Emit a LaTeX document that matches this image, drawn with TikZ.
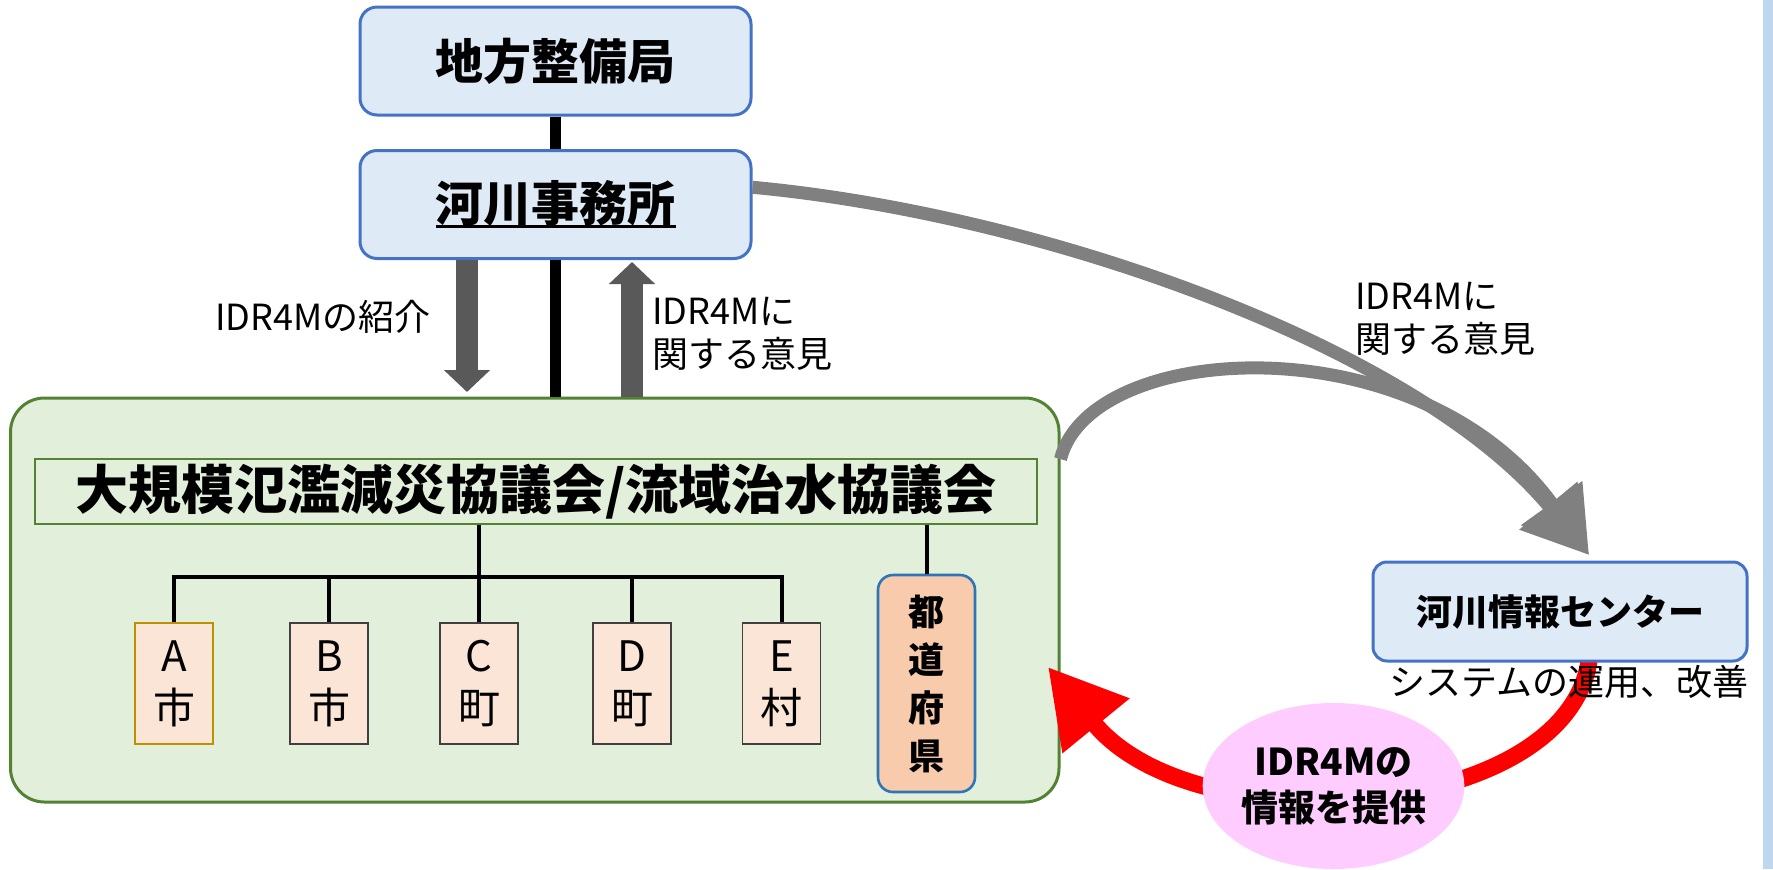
\documentclass[tikz,border=0pt]{standalone}
\usepackage{fontspec}
\setmainfont{Noto Sans CJK JP}
\usetikzlibrary{arrows.meta,positioning,shapes.geometric,calc}
\definecolor{boxfill}{HTML}{DEEBF7}
\definecolor{boxline}{HTML}{4472C4}
\definecolor{grpfill}{HTML}{E2EFDA}
\definecolor{grpline}{HTML}{548235}
\definecolor{cityfill}{HTML}{FBE5D6}
\definecolor{cityline}{HTML}{404040}
\definecolor{goldline}{HTML}{BF9000}
\definecolor{preffill}{HTML}{F8CBAD}
\definecolor{prefline}{HTML}{2E75B6}
\definecolor{darkarrow}{HTML}{595959}
\definecolor{lightarrow}{HTML}{808080}
\definecolor{infopink}{HTML}{FFCCFF}
\definecolor{stripblue}{HTML}{BDD7EE}
\newcommand{\thickul}[1]{\setbox0\hbox{#1}\rlap{\rule[-3.2pt]{\wd0}{1.5pt}}\box0}
\tikzset{
    x=0.5pt, y=-0.5pt,
    office/.style={draw=boxline, fill=boxfill, line width=1.5pt, rounded corners=8.5pt,
        inner sep=0pt, minimum width=195.5pt, minimum height=54pt,
        font=\fontsize{24pt}{28pt}\selectfont\bfseries},
    infocenter/.style={office, rounded corners=7pt, minimum width=187pt, minimum height=49.5pt,
        font=\fontsize{18pt}{22pt}\selectfont\bfseries},
    council/.style={draw=grpline, fill=grpfill, line width=1.5pt, rounded corners=17pt,
        inner sep=0pt, minimum width=524.25pt, minimum height=202pt},
    heading/.style={draw=grpline, fill=grpfill, line width=1.2pt, inner sep=0pt,
        minimum width=501pt, minimum height=32.5pt,
        font=\fontsize{26.5pt}{30pt}\selectfont\bfseries},
    city/.style={draw=cityline, fill=cityfill, line width=0.8pt, inner sep=0pt,
        minimum width=39pt, minimum height=60.5pt, align=center,
        font=\fontsize{21pt}{26pt}\selectfont},
    pref/.style={draw=prefline, fill=preffill, line width=1.3pt, rounded corners=7.5pt,
        inner sep=0pt, minimum width=48.5pt, minimum height=108.5pt, align=center,
        font=\fontsize{18pt}{24pt}\selectfont\bfseries},
    bubble/.style={ellipse, fill=infopink, inner sep=0pt, minimum width=115.5pt,
        minimum height=83pt, align=center, font=\fontsize{18.5pt}{23pt}\selectfont\bfseries},
    note/.style={inner sep=0pt, align=left, font=\fontsize{18pt}{21.5pt}\selectfont},
    link/.style={line width=5.5pt},
    branch/.style={line width=2pt},
    blockarrow/.style={darkarrow, line width=11pt, -{Triangle[length=11pt,width=22.5pt]}},
    curvearrow/.style={lightarrow, line width=6.5pt, -{Triangle[length=32pt,width=36pt]}},
    redarrow/.style={red, line width=8.5pt, -{Triangle[length=38pt,width=41pt]}}
}

\begin{document}
\begin{tikzpicture}
    \useasboundingbox (0,0) rectangle (1773,869);
    \fill[stripblue] (1763,0) rectangle (1773,869);

    % hierarchy
    \node[office] (kyoku) at (555.5,61) {地方整備局};
    \node[office] (jimusho) at (555.5,204.5) {\thickul{河川事務所}};
    \node[council] (kyogi) at (534.75,600) {};
    \node[heading] (title) at (536,491.5) {大規模氾濫減災協議会/流域治水協議会};
    \node[city, draw=goldline] (cityA) at (174,683.5) {A\\市};
    \node[city] (cityB) at (329,683.5) {B\\市};
    \node[city] (cityC) at (479,683.5) {C\\町};
    \node[city] (cityD) at (632,683.5) {D\\町};
    \node[city] (cityE) at (781.5,683.5) {E\\村};
    \node[pref] (pref) at (926.5,683.5) {都\\道\\府\\県};

    \draw[link] (kyoku.south) -- (jimusho.north);
    \draw[link] (jimusho.south) -- (jimusho.south |- kyogi.north);

    \coordinate (bus) at (479,577);
    \draw[branch] (title.south -| bus) -- (bus);
    \draw[branch] (cityA.north) |- (bus) -| (cityE.north);
    \foreach \c in {cityB,cityC,cityD}
        \draw[branch] (\c.north) -- (\c.north |- bus);
    \draw[branch] (title.south -| pref.north) -- (pref.north);

    % arrows
    \coordinate (downtip) at (467,392);
    \coordinate (uptip) at (632,262);
    \draw[blockarrow] (downtip |- jimusho.south) -- (downtip);
    \draw[blockarrow] (uptip |- kyogi.north) -- (uptip);

    \coordinate (graytip) at (1589,555);
    \draw[curvearrow] (jimusho.5) .. controls (1050,215) and (1420,350) .. (graytip);
    \draw[curvearrow] (kyogi.15) .. controls (1090,340) and (1420,320) .. (graytip);

    \coordinate (redstart) at (1589,661);
    \coordinate (redtip) at (1048,667);
    \draw[redarrow] (redstart) .. controls (1565,820) and (1195,847) .. (redtip);

    \node[infocenter] (senta) at (1560,611.5) {河川情報センター};
    \node[bubble] (info) at (1333.5,786) {IDR4Mの\\情報を提供};

    % labels
    \node[note] (unyo) at (1569,682) {システムの運用、改善};
    \node[note] (shokai) at (323,317) {IDR4Mの紹介};
    \node[note, anchor=west] (iken) at (652,333.5) {IDR4Mに\\関する意見};
    \node[note, anchor=west] (ikencenter) at (1355,319) {IDR4Mに\\関する意見};
\end{tikzpicture}
\end{document}
